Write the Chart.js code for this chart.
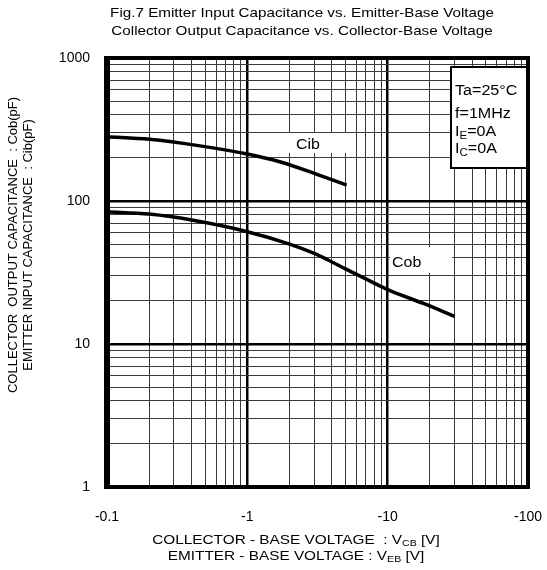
<!DOCTYPE html>
<html>
<head>
<meta charset="utf-8">
<script src="https://cdn.jsdelivr.net/npm/chart.js@4"></script>
<style>
html, body { margin: 0; padding: 0; background: #fff; }
</style>
</head>
<body>
<canvas id="grafico" width="547" height="570"></canvas>
<script>
// Valores (tensão em módulo, eixo mostra com sinal negativo)
const vCib = [0.1, 0.2, 0.46, 1, 1.7, 3, 5.1];
const cib = [281, 270, 243, 213, 188, 156, 129];
const vCob = [0.1, 0.2, 0.42, 1, 2, 3, 3.76, 5, 7.1, 10, 18, 30];
const cob = [84, 81, 73, 61, 50, 43, 38.7, 33.5, 28.3, 24, 19.2, 15.6];

// décadas dos eixos (rótulos)
const xDecadas = [0.1, 1, 10, 100];
const yDecadas = [1, 10, 100, 1000];

const titulo = [
    'Fig.7 Emitter Input Capacitance vs. Emitter-Base Voltage',
    'Collector Output Capacitance vs. Collector-Base Voltage'
];
const tituloY = [
    'COLLECTOR  OUTPUT CAPACITANCE  : Cob(pF)',
    'EMITTER INPUT CAPACITANCE  : Cib(pF)'
];
// partes: [texto, subscrito, resto]
const tituloX = [
    ['COLLECTOR - BASE VOLTAGE  : V', 'CB', ' [V]'],
    ['EMITTER - BASE VOLTAGE : V', 'EB', ' [V]']
];
const condicoes = [
    ['Ta=25°C', '', ''],
    ['f=1MHz', '', ''],
    ['I', 'E', '=0A'],
    ['I', 'C', '=0A']
];

const FONTE = '"Liberation Sans", Arial, sans-serif';

// gera marcas 1..9 em cada década
function marcasLog(decadas) {
    const lista = [];
    for (let i = 0; i < decadas.length - 1; i++) {
        for (let k = 1; k <= 9; k++) {
            lista.push({ value: Number((decadas[i] * k).toPrecision(3)) });
        }
    }
    lista.push({ value: decadas[decadas.length - 1] });
    return lista;
}

// escreve texto (com subscrito opcional) levemente esticado na horizontal,
// como no original
function textoComIndice(ctx, partes, x, y, tam, centro, esticar) {
    const fNormal = tam + 'px ' + FONTE;
    const fSub = Math.round(tam * 0.7) + 'px ' + FONTE;
    ctx.font = fNormal;
    const w0 = ctx.measureText(partes[0]).width;
    const w2 = ctx.measureText(partes[2]).width;
    ctx.font = fSub;
    const w1 = ctx.measureText(partes[1]).width;
    ctx.save();
    ctx.translate(x, y);
    ctx.scale(esticar, 1);
    let px = centro ? -(w0 + w1 + w2) / 2 : 0;
    ctx.textAlign = 'left';
    ctx.textBaseline = 'middle';
    ctx.font = fNormal;
    ctx.fillText(partes[0], px, 0);
    px += w0;
    ctx.font = fSub;
    ctx.fillText(partes[1], px, tam * 0.3);
    px += w1;
    ctx.font = fNormal;
    ctx.fillText(partes[2], px, 0);
    ctx.restore();
}

const textos = {
    id: 'textos',
    beforeDatasetsDraw(chart) {
        const ctx = chart.ctx;
        // caixas brancas atrás dos rótulos das curvas
        ctx.save();
        ctx.fillStyle = '#fff';
        ctx.fillRect(288, 133, 62, 20);
        ctx.fillRect(390, 247, 62, 26);
        ctx.fillStyle = '#000';
        textoComIndice(ctx, ['Cib', '', ''], 296, 145, 14, false, 1.14);
        textoComIndice(ctx, ['Cob', '', ''], 392, 263, 14, false, 1.14);
        ctx.restore();
    },
    afterDatasetsDraw(chart) {
        const ctx = chart.ctx;
        const a = chart.chartArea;
        ctx.save();
        ctx.fillStyle = '#000';

        // título
        textoComIndice(ctx, [titulo[0], '', ''], 302, 13, 13, true, 1.17);
        textoComIndice(ctx, [titulo[1], '', ''], 302, 31, 13, true, 1.17);

        // título do eixo Y (girado)
        ctx.save();
        ctx.font = '13px ' + FONTE;
        ctx.textAlign = 'center';
        ctx.textBaseline = 'middle';
        ctx.translate(13, 245);
        ctx.rotate(-Math.PI / 2);
        ctx.fillText(tituloY[0], 0, 0);
        ctx.fillText(tituloY[1], 0, 15);
        ctx.restore();

        // título do eixo X
        textoComIndice(ctx, tituloX[0], 296, 540, 13, true, 1.18);
        textoComIndice(ctx, tituloX[1], 296, 556, 13, true, 1.18);

        // caixa de condições
        ctx.fillStyle = '#fff';
        ctx.fillRect(451, 67, 77, 101);
        ctx.strokeStyle = '#000';
        ctx.lineWidth = 2;
        ctx.strokeRect(451, 67, 77, 101);
        ctx.fillStyle = '#000';
        const linhasY = [91, 114, 132, 149];
        condicoes.forEach((c, i) => textoComIndice(ctx, c, 455, linhasY[i], 14, false, 1.15));

        // moldura grossa (lado esquerdo mais largo)
        ctx.strokeStyle = '#000';
        ctx.lineWidth = 4;
        ctx.strokeRect(a.left, a.top, a.right - a.left, a.bottom - a.top);
        ctx.fillRect(a.left - 3, a.top - 2, 6, a.bottom - a.top + 4);
        ctx.restore();
    }
};

function corGrade(decadas) {
    return ctx => decadas.includes(ctx.tick.value) ? '#000' : '#3a3a3a';
}
function larguraGrade(decadas) {
    return ctx => decadas.includes(ctx.tick.value) ? 2.5 : 1;
}

const ctx = document.getElementById('grafico').getContext('2d');

new Chart(ctx, {
    type: 'line',
    data: {
        datasets: [
            {
                label: 'Cib',
                data: vCib.map((v, i) => ({ x: v, y: cib[i] })),
                borderColor: '#000',
                borderWidth: 3.5,
                pointRadius: 0,
                cubicInterpolationMode: 'monotone',
                fill: false
            },
            {
                label: 'Cob',
                data: vCob.map((v, i) => ({ x: v, y: cob[i] })),
                borderColor: '#000',
                borderWidth: 3.5,
                pointRadius: 0,
                cubicInterpolationMode: 'monotone',
                fill: false
            }
        ]
    },
    options: {
        responsive: false,
        animation: false,
        devicePixelRatio: 1,
        layout: { padding: { top: 58, right: 19, left: 0, bottom: 0 } },
        plugins: {
            legend: { display: false },
            tooltip: { enabled: false },
            title: { display: false }
        },
        scales: {
            x: {
                type: 'logarithmic',
                min: 0.1,
                max: 100,
                afterBuildTicks: s => { s.ticks = marcasLog(xDecadas); },
                afterFit: s => {
                    s.height = 83;
                    s.paddingLeft = 0;
                    s.paddingRight = 0;
                },
                grid: { color: corGrade(xDecadas), lineWidth: larguraGrade(xDecadas), drawTicks: false },
                border: { display: false },
                ticks: {
                    autoSkip: false,
                    maxRotation: 0,
                    padding: 22,
                    color: '#000',
                    font: { family: FONTE, size: 14 },
                    callback: v => xDecadas.includes(v) ? '-' + v : ''
                }
            },
            y: {
                type: 'logarithmic',
                min: 1,
                max: 1000,
                afterBuildTicks: s => { s.ticks = marcasLog(yDecadas); },
                afterFit: s => {
                    s.width = 107;
                    s.paddingTop = 0;
                    s.paddingBottom = 0;
                },
                grid: { color: corGrade(yDecadas), lineWidth: larguraGrade(yDecadas), drawTicks: false },
                border: { display: false },
                ticks: {
                    autoSkip: false,
                    padding: 17,
                    color: '#000',
                    font: { family: FONTE, size: 14 },
                    callback: v => yDecadas.includes(v) ? String(v) : ''
                }
            }
        }
    },
    plugins: [textos]
});
</script>
</body>
</html>
